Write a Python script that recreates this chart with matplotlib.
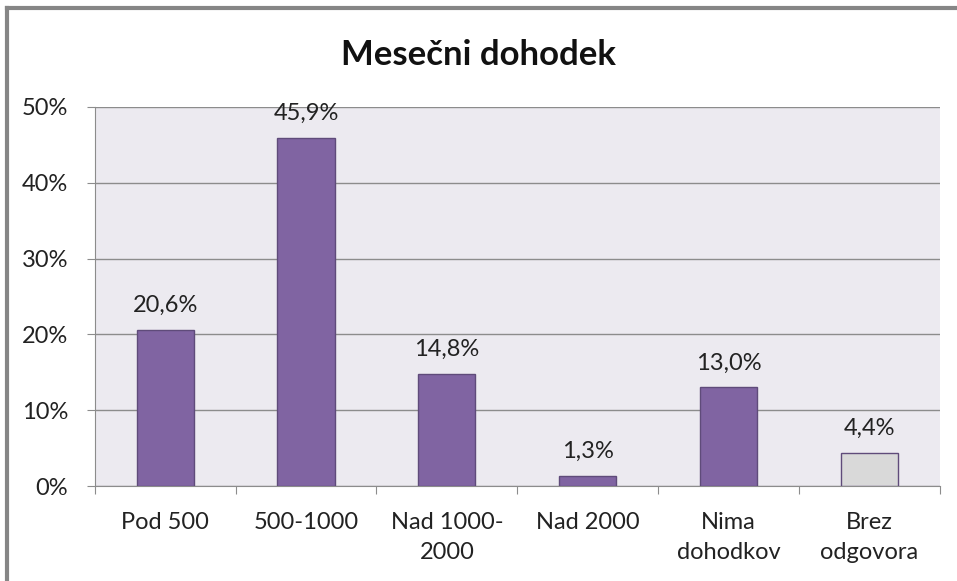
import matplotlib.pyplot as plt
from matplotlib.lines import Line2D
import numpy as np

categories = ['Pod 500', '500-1000', 'Nad 1000-\n2000', 'Nad 2000', 'Nima\ndohodkov', 'Brez\nodgovora']
values = [20.6, 45.9, 14.8, 1.3, 13.0, 4.4]
labels = ['20,6%', '45,9%', '14,8%', '1,3%', '13,0%', '4,4%']
bar_colors = ['#8064A2', '#8064A2', '#8064A2', '#8064A2', '#8064A2', '#D9D9D9']

plt.rcParams['font.family'] = ['Lato', 'DejaVu Sans']

fig = plt.figure(figsize=(9.57, 5.81), dpi=100)
ax = fig.add_axes([0.099, 0.1635, 0.883, 0.6525])
ax.set_facecolor('#ECEAF0')

x = np.arange(len(categories))
ax.bar(x, values, width=0.405, color=bar_colors, edgecolor='#5F4B7A', linewidth=1, zorder=3)

for xi, v, lab in zip(x, values, labels):
    ax.annotate(lab, (xi, v), xytext=(0, 10), textcoords='offset points',
                ha='center', va='bottom', fontsize=17, color='#222222')

ax.set_xlim(-0.5, len(categories) - 0.5)
ax.set_ylim(0, 50)
ax.set_yticks(range(0, 51, 10))
ax.set_yticklabels([f'{t}%' for t in range(0, 51, 10)], fontsize=17)
ax.yaxis.grid(True, color='#8C8C8C', linewidth=1, zorder=0)

ax.set_xticks(np.arange(-0.5, len(categories), 1))
ax.set_xticklabels([])
ax.set_xticks(x, minor=True)
ax.set_xticklabels(categories, minor=True, fontsize=17, color='#222222', linespacing=1.5)
ax.tick_params(axis='x', which='minor', length=0, pad=19)
ax.tick_params(axis='x', which='major', length=6, color='#8C8C8C')
ax.tick_params(axis='y', length=6, color='#8C8C8C', pad=13, labelcolor='#222222')

for s in ['top', 'right']:
    ax.spines[s].set_visible(False)
for s in ['left', 'bottom']:
    ax.spines[s].set_color('#8C8C8C')

fig.text(0.5, 0.905, 'Mesečni dohodek', ha='center', va='center', fontsize=25, fontweight='bold', color='#111111')

# outer chart frame (top and left edges only)
fig.add_artist(Line2D([0.0075, 1.0], [0.9855, 0.9855], transform=fig.transFigure, color='#868686', linewidth=3))
fig.add_artist(Line2D([0.0075, 0.0075], [0.0, 0.9855], transform=fig.transFigure, color='#868686', linewidth=3))

fig.savefig('out.png', dpi=100)
